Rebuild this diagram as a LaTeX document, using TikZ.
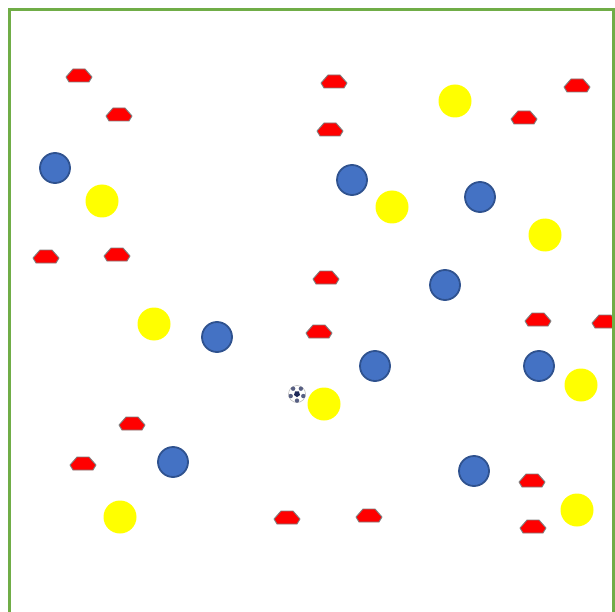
\documentclass[tikz,border=0pt]{standalone}
\definecolor{fieldgreen}{HTML}{70AD47}
\definecolor{pblue}{HTML}{4472C4}
\definecolor{pblueedge}{HTML}{2F528F}
\definecolor{pyellow}{HTML}{FFFF00}
\definecolor{conered}{HTML}{FF0000}
\definecolor{coneedge}{HTML}{7F7F7F}
\definecolor{balldark}{HTML}{1F2A5A}
\tikzset{
  x=1pt, y=-1pt,
  blueplayer/.style={circle, fill=pblue, draw=pblueedge, line width=1.8pt, minimum size=30pt, inner sep=0pt},
  yellowplayer/.style={circle, fill=pyellow, draw=none, minimum size=33pt, inner sep=0pt},
  cone/.pic={\draw[fill=conered, draw=coneedge, line width=0.9pt, line join=round]
     (-6,-7) -- (6,-7) -- (13,1) -- (10,6) -- (-10,6) -- (-13,1) -- cycle;},
  ball/.pic={
     \draw[fill=white, draw=gray!60, line width=0.5pt] (0,0) circle (8.5);
     \fill[balldark] (90:3.2)--(162:3.2)--(234:3.2)--(306:3.2)--(18:3.2)--cycle;
     \foreach \a in {90,162,234,306,18}{\fill[balldark!75] (\a:6.6) circle (2.2);}
  }
}
\begin{document}
\begin{tikzpicture}
\useasboundingbox (0,0) rectangle (615,612);
\fill[white] (0,0) rectangle (615,612);
% cones
\foreach \p in {(79,76),(119,115),(334,82),(330,130),(577,86),(524,118),(46,257),(117,255),
  (326,278),(319,332),(538,320),(605,322),(132,424),(83,464),(287,518),(369,516),(532,481),(533,527)}
  {\pic at \p {cone};}
% blue players
\foreach \p [count=\i] in {(55,168),(352,180),(480,197),(445,285),(217,337),(375,366),(539,366),(173,462),(474,471)}
  {\node[blueplayer] (b\i) at \p {};}
% yellow players
\foreach \p [count=\i] in {(455,101),(102,201),(392,207),(545,235),(154,324),(324,404),(581,385),(120,517),(577,510)}
  {\node[yellowplayer] (y\i) at \p {};}
% ball
\pic at (297,394) {ball};
% field border
\draw[fieldgreen, line width=3pt] (9.5,615) -- (9.5,9.5) -- (613.5,9.5) -- (613.5,615);
\end{tikzpicture}
\end{document}
